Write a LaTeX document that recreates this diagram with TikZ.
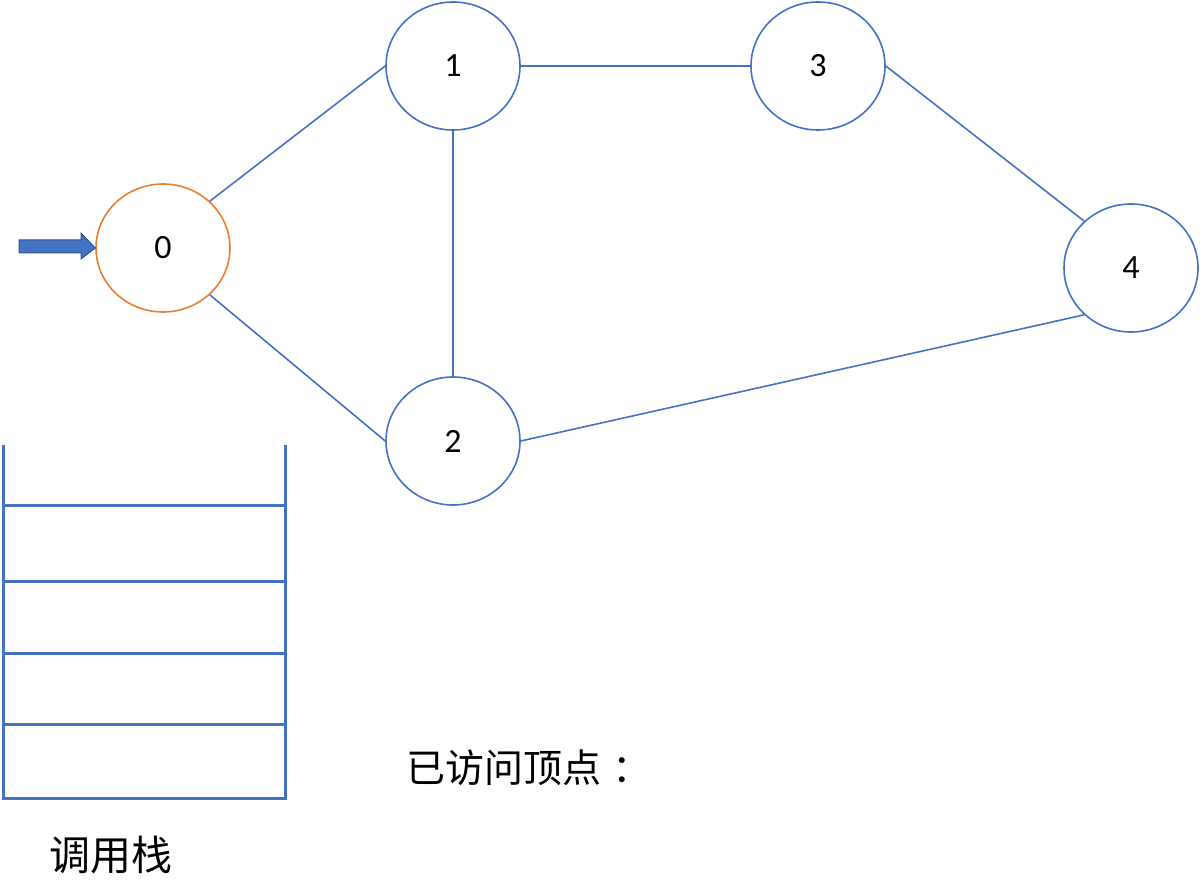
\documentclass[tikz,border=0pt]{standalone}
\usepackage{fontspec}
\setmainfont{Carlito}
\newfontfamily\cjk{Noto Sans CJK SC}
\usetikzlibrary{shapes.geometric}
\definecolor{gblue}{HTML}{4472C4}
\definecolor{gorange}{HTML}{ED7D31}
\definecolor{gdark}{HTML}{2F528F}
\tikzset{
  vert/.style={ellipse, draw=gblue, line width=1.6pt, minimum width=134pt, minimum height=128pt, inner sep=0pt, font=\fontsize{34}{36}\selectfont},
  edge/.style={gblue, line width=1.6pt},
  stackline/.style={gblue, line width=3pt},
  lbl/.style={font=\cjk\fontsize{39}{42}\selectfont, inner sep=0pt}
}
\begin{document}
\begin{tikzpicture}[x=1pt,y=-1pt]
\useasboundingbox (0,0) rectangle (1200,893);
\node[vert, draw=gorange] (n0) at (163,248) {0};
\node[vert] (n1) at (453,66) {1};
\node[vert] (n2) at (453,441) {2};
\node[vert] (n3) at (818,66) {3};
\node[vert] (n4) at (1131,268) {4};
\draw[edge] (n0.45) -- (n1.west);
\draw[edge] (n0.-45) -- (n2.west);
\draw[edge] (n1.east) -- (n3.west);
\draw[edge] (n1.south) -- (n2.north);
\draw[edge] (n3.east) -- (n4.135);
\draw[edge] (n2.east) -- (n4.-135);
\coordinate (tip) at (n0.west);
\filldraw[fill=gblue, draw=gdark, line width=1pt, line join=miter]
  (19,240) -- (81,240) -- (81,233) -- (tip) -- (81,259) -- (81,253) -- (19,253) -- cycle;
\coordinate (sTL) at (3,445);
\coordinate (sTR) at (285,445);
\coordinate (sBL) at (3,798);
\coordinate (sBR) at (285,798);
\draw[stackline] (sTL) -- (sBL) -- (sBR) -- (sTR);
\foreach \yy in {505,581,653,724} \draw[stackline] (3,\yy) -- (285,\yy);
\node[lbl, font=\cjk\fontsize{41}{44}\selectfont] (stk) at (111,855) {调用栈};
\node[lbl, anchor=west] (vis) at (406,768) {已访问顶点\hspace{0.3em}：};
\end{tikzpicture}
\end{document}
